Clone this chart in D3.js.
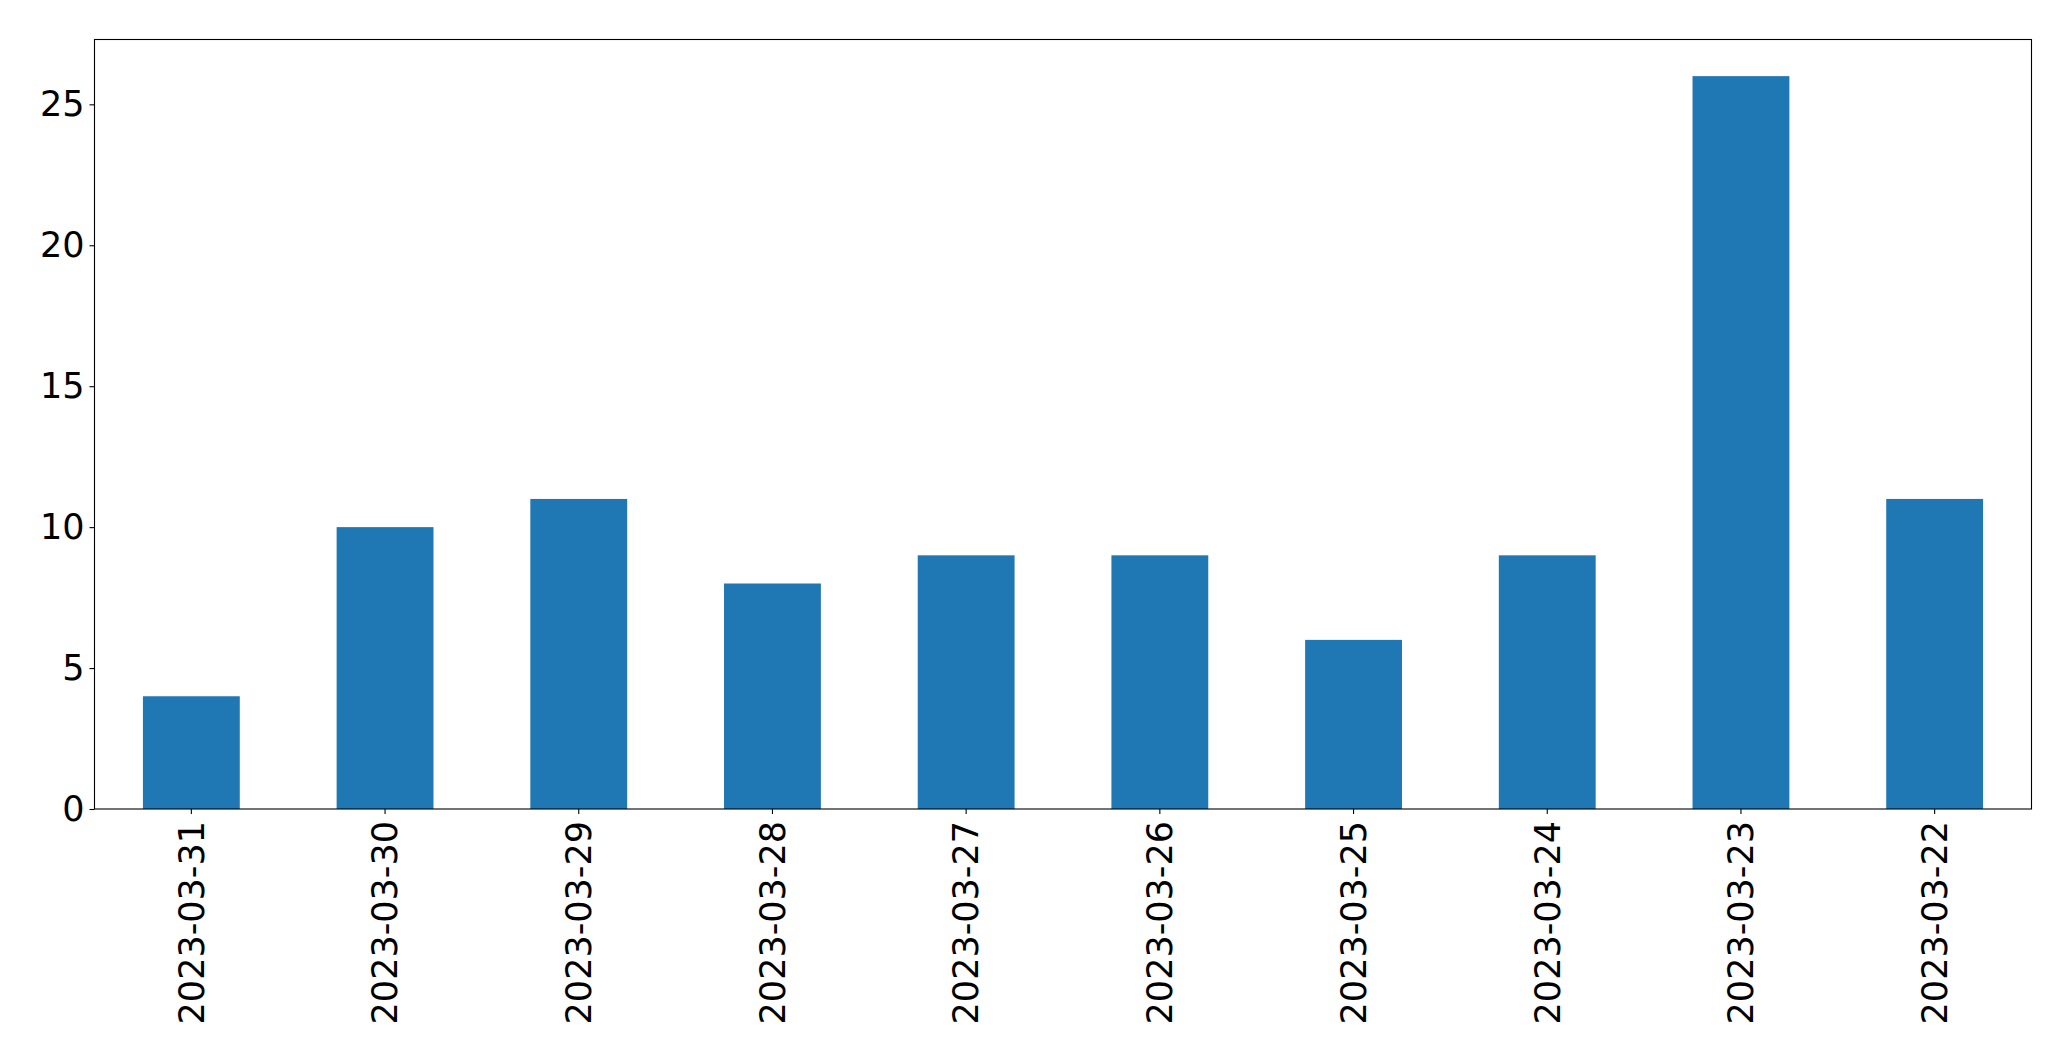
<!DOCTYPE html>
<html>
<head>
<meta charset="utf-8">
<script src="https://cdn.jsdelivr.net/npm/d3@7"></script>
<style>
  html, body { margin: 0; padding: 0; background: #fff; }
  svg { display: block; }
</style>
</head>
<body>
<svg id="chart" width="2071" height="1061"></svg>
<script>
const categories = ["2023-03-31","2023-03-30","2023-03-29","2023-03-28","2023-03-27","2023-03-26","2023-03-25","2023-03-24","2023-03-23","2023-03-22"];
const values = [4, 10, 11, 8, 9, 9, 6, 9, 26, 11];
const yTicks = [0, 5, 10, 15, 20, 25];

const W = 2071, H = 1061;
const m = { left: 94.5, right: 2031.5, top: 39.5, bottom: 809 };
const fontSize = 35;
const font = "'DejaVu Sans', sans-serif";

const svg = d3.select("#chart");

const x = d3.scaleBand()
  .domain(categories)
  .range([m.left, m.right])
  .paddingInner(0.5)
  .paddingOuter(0.25);

const yMax = d3.max(values) * 1.05;
const y = d3.scaleLinear().domain([0, yMax]).range([m.bottom, m.top]);

// bars
svg.append("g").selectAll("rect")
  .data(categories)
  .join("rect")
  .attr("x", d => x(d))
  .attr("width", x.bandwidth())
  .attr("y", (d, i) => y(values[i]))
  .attr("height", (d, i) => y(0) - y(values[i]))
  .attr("fill", "#1f77b4");

// y axis
const yAxis = d3.axisLeft(y).tickValues(yTicks).tickSize(5).tickPadding(5).tickFormat(d3.format("d"));
const gy = svg.append("g").attr("transform", `translate(${m.left},0)`).call(yAxis);
gy.select(".domain").remove();
gy.selectAll(".tick line").attr("stroke", "#000").attr("stroke-width", 1.1);
gy.selectAll(".tick text")
  .attr("font-family", font).attr("font-size", fontSize).attr("fill", "#000");

// x axis
const xAxis = d3.axisBottom(x).tickSize(5).tickPadding(5);
const gx = svg.append("g").attr("transform", `translate(0,${m.bottom})`).call(xAxis);
gx.select(".domain").remove();
gx.selectAll(".tick line").attr("stroke", "#000").attr("stroke-width", 1.1);
gx.selectAll(".tick text")
  .attr("font-family", font).attr("font-size", fontSize).attr("fill", "#000")
  .attr("text-anchor", "end")
  .attr("transform", "rotate(-90)")
  .attr("x", -12)
  .attr("y", 0)
  .attr("dy", "0.35em");

// frame
svg.append("rect")
  .attr("x", m.left).attr("y", m.top)
  .attr("width", m.right - m.left).attr("height", m.bottom - m.top)
  .attr("fill", "none").attr("stroke", "#000").attr("stroke-width", 1.1);
</script>
</body>
</html>
